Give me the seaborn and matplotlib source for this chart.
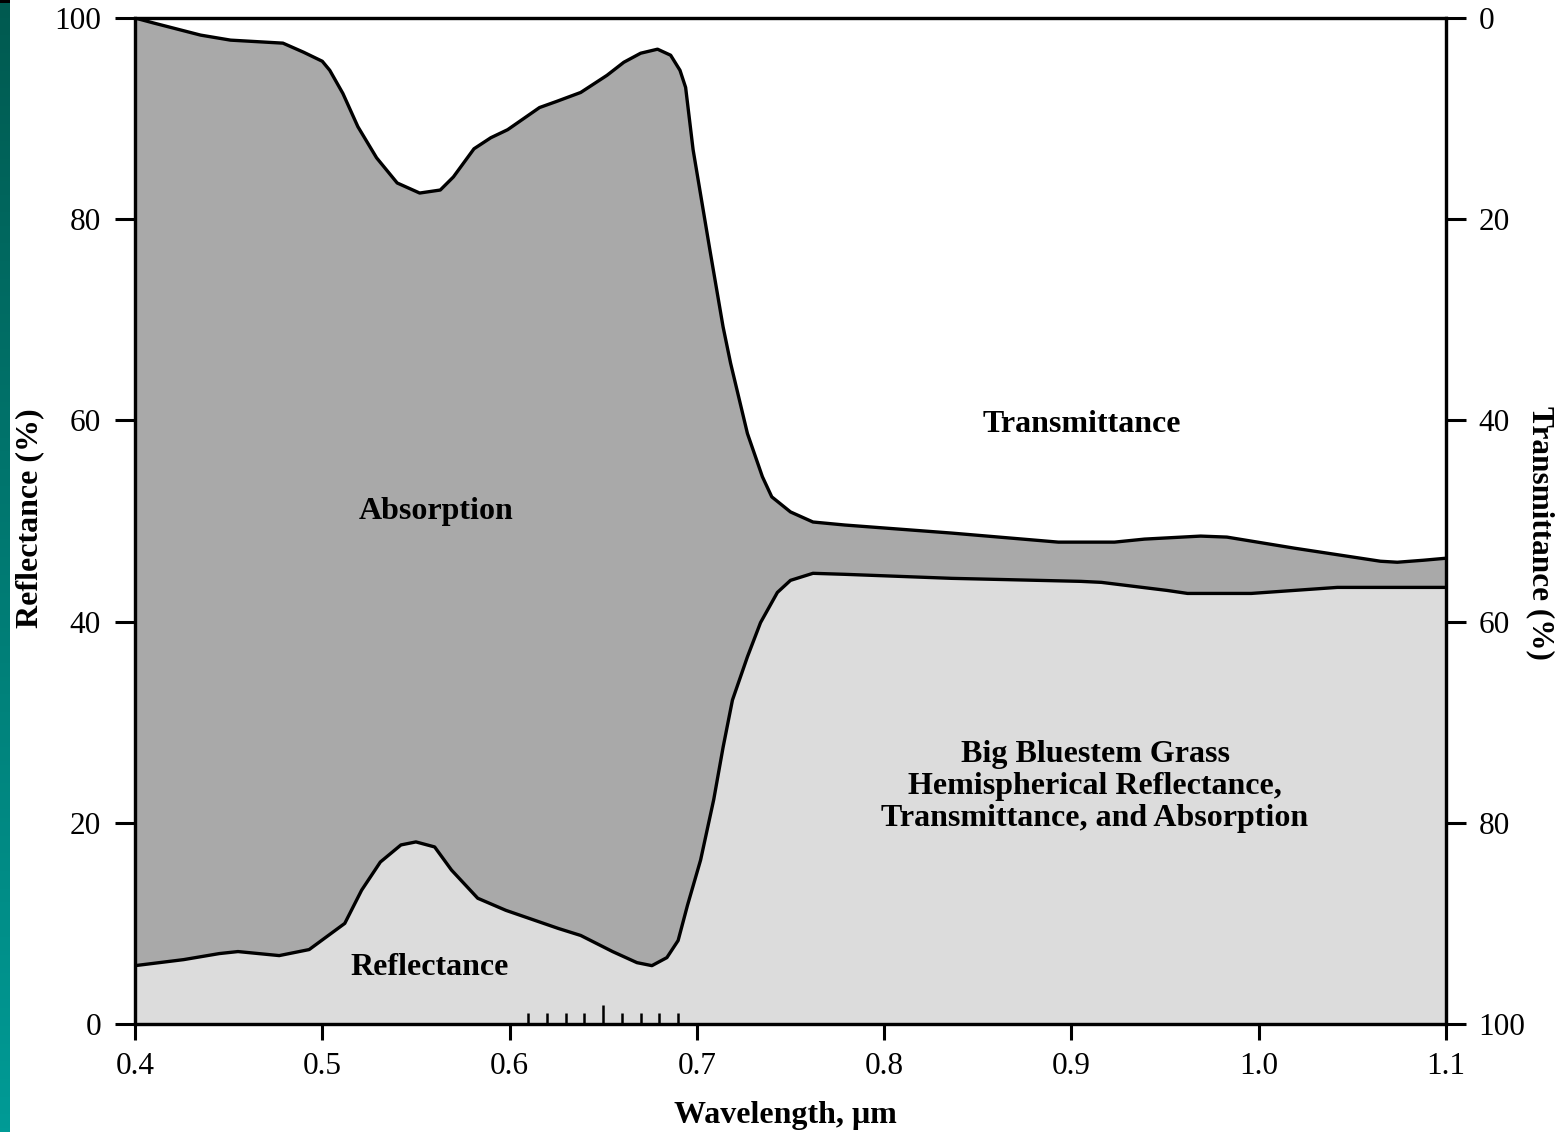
import numpy as np
import matplotlib
matplotlib.use("Agg")
import matplotlib.pyplot as plt
from matplotlib.colors import LinearSegmentedColormap
import seaborn as sns

# Big bluestem grass: hemispherical reflectance and transmittance (%)
wl_trans = np.array([0.400, 0.410, 0.435, 0.451, 0.479, 0.490, 0.500, 0.504, 0.511, 0.519,
                     0.529, 0.540, 0.552, 0.563, 0.570, 0.581, 0.590, 0.599, 0.616, 0.625,
                     0.638, 0.652, 0.661, 0.670, 0.679, 0.686, 0.691, 0.694, 0.698, 0.707,
                     0.714, 0.718, 0.727, 0.735, 0.740, 0.750, 0.762, 0.779, 0.836, 0.893,
                     0.923, 0.939, 0.969, 0.983, 1.019, 1.065, 1.074, 1.088, 1.100])
transmittance = np.array([0.0, 0.5, 1.7, 2.2, 2.5, 3.4, 4.3, 5.2, 7.5, 10.8,
                          13.9, 16.4, 17.4, 17.1, 15.8, 13.0, 11.9, 11.1, 8.9, 8.3,
                          7.4, 5.7, 4.4, 3.5, 3.1, 3.7, 5.2, 6.9, 13.1, 23.1,
                          30.7, 34.3, 41.3, 45.6, 47.6, 49.1, 50.1, 50.4, 51.2, 52.1,
                          52.1, 51.8, 51.5, 51.6, 52.7, 54.0, 54.1, 53.9, 53.7])

wl_refl = np.array([0.400, 0.426, 0.445, 0.455, 0.477, 0.493, 0.512, 0.521, 0.531, 0.542,
                    0.550, 0.560, 0.569, 0.583, 0.598, 0.626, 0.638, 0.655, 0.668, 0.676,
                    0.684, 0.690, 0.695, 0.702, 0.709, 0.714, 0.719, 0.727, 0.734, 0.743,
                    0.750, 0.762, 0.779, 0.836, 0.905, 0.916, 0.951, 0.962, 0.996, 1.042,
                    1.065, 1.100])
reflectance = np.array([5.8, 6.4, 7.0, 7.2, 6.8, 7.4, 10.0, 13.3, 16.1, 17.8,
                        18.1, 17.6, 15.3, 12.5, 11.3, 9.5, 8.8, 7.2, 6.1, 5.8,
                        6.6, 8.3, 11.8, 16.3, 22.3, 27.5, 32.2, 36.5, 39.9, 42.9,
                        44.1, 44.8, 44.7, 44.3, 44.0, 43.9, 43.1, 42.8, 42.8, 43.4,
                        43.4, 43.4])

x_ticks = [0.4, 0.5, 0.6, 0.7, 0.8, 0.9, 1.0, 1.1]
x_tick_labels = ["0.4", "0.5", "0.6", "0.7", "0.8", "0.9", "1.0", "1.1"]
y_ticks = [0, 20, 40, 60, 80, 100]
fine_ticks = [0.61, 0.62, 0.63, 0.64, 0.66, 0.67, 0.68, 0.69]
mid_tick = [0.65]

sns.set_theme(style="ticks")
plt.rcParams["font.family"] = ["Liberation Serif", "DejaVu Serif"]
for key in ["text.color", "axes.labelcolor", "xtick.color", "ytick.color", "axes.edgecolor"]:
    plt.rcParams[key] = "black"

W, H = 1558, 1132
fig = plt.figure(figsize=(W / 100, H / 100), dpi=100)
fig.patch.set_facecolor("white")

# teal edge strip on the left side of the slide
strip = fig.add_axes([0, 0, 10 / W, 1])
teal = LinearSegmentedColormap.from_list("teal", ["#005a50", "#009b96"])
strip.imshow(np.linspace(0, 1, 256)[:, None], aspect="auto", cmap=teal,
             extent=[0, 1, 0, 1], origin="upper")
strip.axhspan(1 - 3 / H, 1, color="black", lw=0)
strip.set_xlim(0, 1)
strip.set_ylim(0, 1)
strip.axis("off")

ax = fig.add_axes([135 / W, 1 - 1024 / H, 1311 / W, 1006 / H])
ax.set_facecolor("white")
ax.set_axisbelow(False)

absorb_top = 100 - transmittance
dark, light = "#a9a9a9", "#dcdcdc"
ax.fill_between(wl_trans, 0, absorb_top, color=dark, lw=0, zorder=0.5)
ax.fill_between(wl_refl, 0, reflectance, color=light, lw=0, zorder=0.6)
sns.lineplot(x=wl_trans, y=absorb_top, ax=ax, color="black", linewidth=2.4, zorder=3)
sns.lineplot(x=wl_refl, y=reflectance, ax=ax, color="black", linewidth=2.4, zorder=3)

ax.set_xlim(0.4, 1.1)
ax.set_ylim(0, 100)
ax.set_xticks(x_ticks)
ax.set_xticklabels(x_tick_labels)
ax.set_yticks(y_ticks)
ax.set_xticks(fine_ticks, minor=True)
ax.tick_params(axis="x", which="major", direction="out", length=11.5, width=2.2,
               pad=9, labelsize=22.5)
ax.tick_params(axis="x", which="minor", direction="in", length=8, width=1.8)
ax.tick_params(axis="y", direction="out", length=14.4, width=2.2, pad=10, labelsize=22.5)
for s in ax.spines.values():
    s.set_visible(True)
    s.set_linewidth(2.3)
    s.set_color("black")
    s.set_zorder(5)

sec = ax.secondary_xaxis("bottom")
sec.set_zorder(4)
sec.set_xticks(mid_tick)
sec.set_xticklabels([""])
sec.tick_params(axis="x", direction="in", length=14, width=1.8)
sec.spines["bottom"].set_visible(False)

ax.set_xlabel("Wavelength, μm", fontsize=23, fontweight="bold")
ax.xaxis.set_label_coords(0.4958, -0.077)
ax.set_ylabel("Reflectance (%)", fontsize=23, fontweight="bold")
ax.yaxis.set_label_coords(-0.069, 0.503)

ax2 = ax.twinx()
ax2.set_ylim(100, 0)
ax2.set_yticks(y_ticks)
ax2.tick_params(axis="y", direction="out", length=14.4, width=2.2, pad=9, labelsize=22.5)
for s in ax2.spines.values():
    s.set_linewidth(2.3)
    s.set_color("black")
ax2.set_ylabel("Transmittance (%)", fontsize=22.5, fontweight="bold",
               rotation=-90, va="bottom")
ax2.yaxis.set_label_coords(1.0605, 0.488)

txt = dict(fontsize=23, fontweight="bold", ha="center", va="center", zorder=6)
ax.text(0.9056, 59.6, "Transmittance", **txt)
ax.text(0.5607, 50.9, "Absorption", **txt)
ax.text(0.5575, 5.6, "Reflectance", **txt)
ax.text(0.9126, 23.6, "Big Bluestem Grass\nHemispherical Reflectance,\nTransmittance, and Absorption",
        linespacing=1.12, **txt)

fig.savefig("out.png", dpi=100)
